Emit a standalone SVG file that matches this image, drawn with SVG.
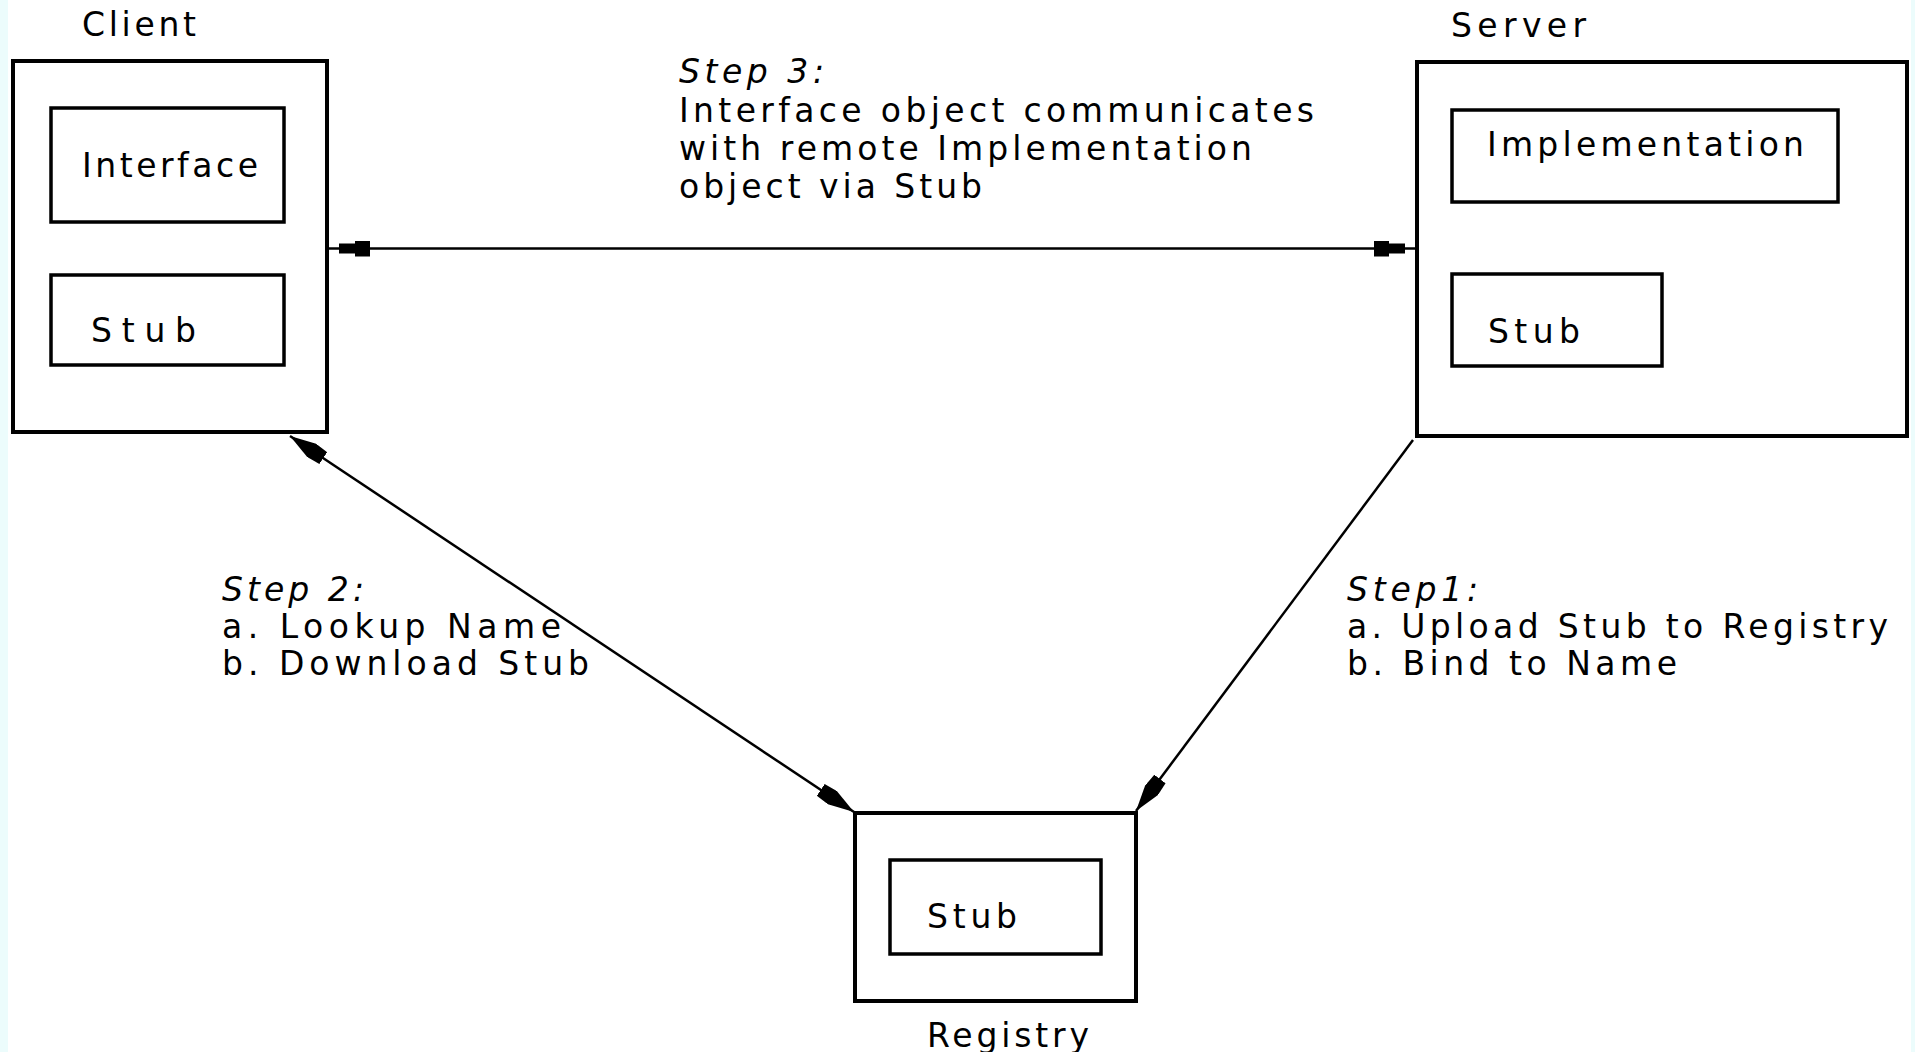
<svg xmlns="http://www.w3.org/2000/svg" width="1915" height="1052" viewBox="0 0 1915 1052">
  <style>
    .box { fill: none; stroke: #000; stroke-width: 4; }
    .inner { fill: none; stroke: #000; stroke-width: 3.5; }
    .lbl { font-family: "DejaVu Sans", "Liberation Sans", sans-serif; font-size: 33px; fill: #000; }
    .it { font-style: italic; }
    .conn { stroke: #000; stroke-width: 2.5; fill: none; }
  </style>
  <defs>
    <marker id="blk" viewBox="0 0 41 16" refX="41" refY="8" markerWidth="41" markerHeight="16" markerUnits="userSpaceOnUse" orient="auto-start-reverse">
      <path d="M0,0 H15 V3 H31 V13 H15 V16 H0 Z" fill="#000"/>
    </marker>
    <marker id="arr" viewBox="0 0 40 16" refX="40" refY="8" markerWidth="40" markerHeight="16" markerUnits="userSpaceOnUse" orient="auto-start-reverse">
      <path d="M0,1 L14,0 L40,8 L14,16 L0,15 Z" fill="#000"/>
    </marker>
  </defs>

  <rect x="0" y="0" width="1915" height="1052" fill="#fff"/>
  <rect x="0" y="0" width="8" height="1052" fill="#ecfcfc"/>
  <rect x="1911" y="0" width="4" height="1052" fill="#ecfcfc"/>

  <g id="client">
    <text class="lbl" x="82" y="36" textLength="114" lengthAdjust="spacing">Client</text>
    <rect class="box" x="13" y="61" width="314" height="371"/>
    <g id="client-interface">
      <rect class="inner" x="51" y="108" width="233" height="114"/>
      <text class="lbl" x="82" y="177" textLength="176" lengthAdjust="spacing">Interface</text>
    </g>
    <g id="client-stub">
      <rect class="inner" x="51" y="275" width="233" height="90"/>
      <text class="lbl" x="91" y="342" textLength="105" lengthAdjust="spacing">Stub</text>
    </g>
  </g>

  <g id="server">
    <text class="lbl" x="1451" y="37" textLength="135" lengthAdjust="spacing">Server</text>
    <rect class="box" x="1417" y="62" width="490" height="374"/>
    <g id="server-implementation">
      <rect class="inner" x="1452" y="110" width="386" height="92"/>
      <text class="lbl" x="1487" y="156" textLength="317" lengthAdjust="spacing">Implementation</text>
    </g>
    <g id="server-stub">
      <rect class="inner" x="1452" y="274" width="210" height="92"/>
      <text class="lbl" x="1488" y="343" textLength="92" lengthAdjust="spacing">Stub</text>
    </g>
  </g>

  <g id="registry">
    <rect class="box" x="855" y="813" width="281" height="188"/>
    <g id="registry-stub">
      <rect class="inner" x="890" y="860" width="211" height="94"/>
      <text class="lbl" x="927" y="928" textLength="90" lengthAdjust="spacing">Stub</text>
    </g>
    <text class="lbl" x="927" y="1047" textLength="162" lengthAdjust="spacing">Registry</text>
  </g>

  <g id="connectors">
    <line class="conn" x1="329" y1="248.5" x2="1415" y2="248.5" marker-start="url(#blk)" marker-end="url(#blk)"/>
    <line class="conn" x1="290" y1="436" x2="854" y2="812" marker-start="url(#arr)" marker-end="url(#arr)"/>
    <line class="conn" x1="1413" y1="440" x2="1136" y2="811" marker-end="url(#arr)"/>
  </g>

  <g id="labels">
    <g id="step3">
      <text class="lbl it" x="679" y="83" textLength="145" lengthAdjust="spacing">Step 3:</text>
      <text class="lbl" x="679" y="122" textLength="635" lengthAdjust="spacing">Interface object communicates</text>
      <text class="lbl" x="679" y="160" textLength="573" lengthAdjust="spacing">with remote Implementation</text>
      <text class="lbl" x="679" y="198" textLength="303" lengthAdjust="spacing">object via Stub</text>
    </g>
    <g id="step2">
      <text class="lbl it" x="222" y="601" textLength="142" lengthAdjust="spacing">Step 2:</text>
      <text class="lbl" x="222" y="638" textLength="339" lengthAdjust="spacing">a. Lookup Name</text>
      <text class="lbl" x="222" y="675" textLength="367" lengthAdjust="spacing">b. Download Stub</text>
    </g>
    <g id="step1">
      <text class="lbl it" x="1347" y="601" textLength="131" lengthAdjust="spacing">Step1:</text>
      <text class="lbl" x="1347" y="638" textLength="541" lengthAdjust="spacing">a. Upload Stub to Registry</text>
      <text class="lbl" x="1347" y="675" textLength="330" lengthAdjust="spacing">b. Bind to Name</text>
    </g>
  </g>
</svg>
